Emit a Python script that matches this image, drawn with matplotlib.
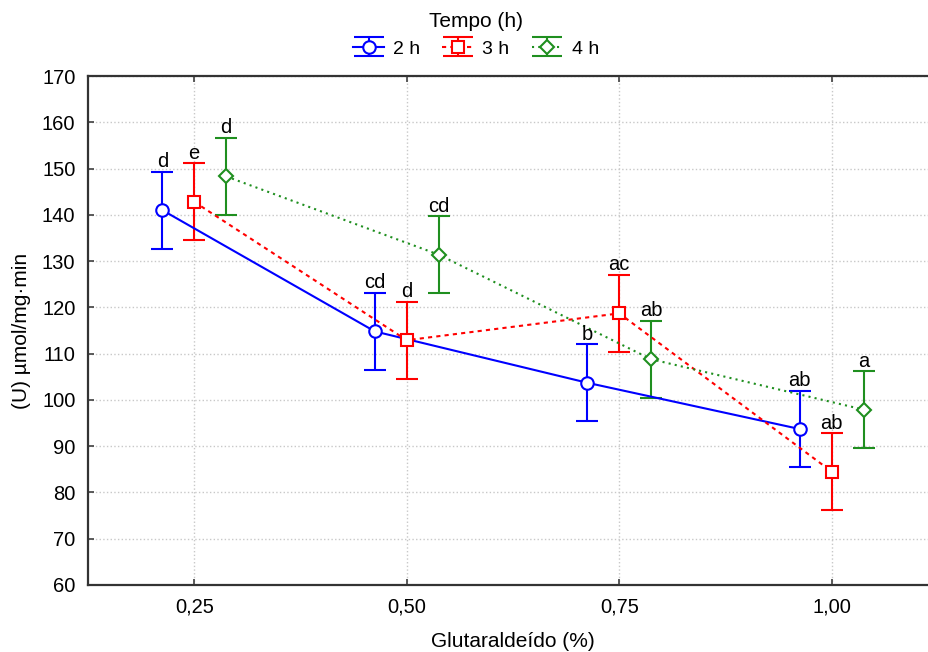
import matplotlib
matplotlib.use('Agg')
import matplotlib.pyplot as plt
import numpy as np

plt.rcParams['font.family'] = ['Liberation Sans', 'DejaVu Sans']

# dados
glutaraldeido = [0.25, 0.50, 0.75, 1.00]
x_labels = ['0,25', '0,50', '0,75', '1,00']
tempos = ['2 h', '3 h', '4 h']

media_2h = [141.0, 114.8, 103.7, 93.7]
media_3h = [142.8, 112.9, 118.7, 84.5]
media_4h = [148.3, 131.4, 108.8, 97.9]

erro_2h = [8.3, 8.3, 8.3, 8.3]
erro_3h = [8.3, 8.3, 8.3, 8.3]
erro_4h = [8.3, 8.3, 8.3, 8.3]

letras_2h = ['d', 'cd', 'b', 'ab']
letras_3h = ['e', 'd', 'ac', 'ab']
letras_4h = ['d', 'cd', 'ab', 'a']

deslocamento = [-0.0375, 0.0, 0.0375]
cores = ['#0000ff', '#ff0000', '#1f8f1f']
marcadores = ['o', 's', 'D']
tam_marc = [9, 8.5, 7]
estilos = ['-', (0, (2, 2)), (0, (1, 2))]

fig = plt.figure(figsize=(9.29, 6.52), dpi=100)
ax = fig.add_axes([88 / 929, 67 / 652, 850 / 929, 509 / 652])

medias = [media_2h, media_3h, media_4h]
erros = [erro_2h, erro_3h, erro_4h]
letras = [letras_2h, letras_3h, letras_4h]

handles = []
for i in range(3):
    x = np.array(glutaraldeido) + deslocamento[i]
    ax.errorbar(x, medias[i], yerr=erros[i], color=cores[i], ls=estilos[i],
                lw=1.5, marker=marcadores[i], ms=tam_marc[i], mfc='white',
                mec=cores[i], mew=1.5, capsize=8, capthick=1.5, elinewidth=1.5,
                zorder=3)
    # proxy para a legenda (caps mais largos)
    h = ax.errorbar([np.nan], [np.nan], yerr=[1], color=cores[i], ls=estilos[i],
                    lw=1.5, marker=marcadores[i], ms=tam_marc[i], mfc='white',
                    mec=cores[i], mew=1.5, capsize=11, capthick=1.5, elinewidth=1.5)
    handles.append(h)
    for xi, yi, ei, li in zip(x, medias[i], erros[i], letras[i]):
        ax.annotate(li, (xi, yi + ei), xytext=(0, 0.5), textcoords='offset points',
                    ha='center', va='bottom', fontsize=14.5, zorder=4)

ax.set_xlim(0.125, 1.125)
ax.set_ylim(60, 170)
ax.set_xticks(glutaraldeido)
ax.set_xticklabels(x_labels)
ax.set_yticks(np.arange(60, 171, 10))
ax.tick_params(axis='both', direction='in', length=4, width=1.2, labelsize=14.5,
               top=True, pad=9, color='#404040')
ax.grid(True, ls=':', color='#c8c8c8', lw=1)
ax.set_axisbelow(True)
for s in ax.spines.values():
    s.set_linewidth(1.6)
    s.set_color('#333333')

ax.set_xlabel('Glutaraldeído (%)', fontsize=15, labelpad=11)
ax.set_ylabel('(U) µmol/mg·min', fontsize=15, labelpad=8)

leg = fig.legend(handles=handles, labels=tempos, title='Tempo (h)', ncol=3,
                 loc='upper center', bbox_to_anchor=(476 / 929, 1.0), frameon=False,
                 fontsize=14, title_fontsize=15, handlelength=1.6, columnspacing=1.15,
                 handletextpad=0.45, borderaxespad=0.2, labelspacing=0.2,
                 handleheight=1.0)
leg._legend_box.sep = 6

fig.savefig('out.png', dpi=100)
